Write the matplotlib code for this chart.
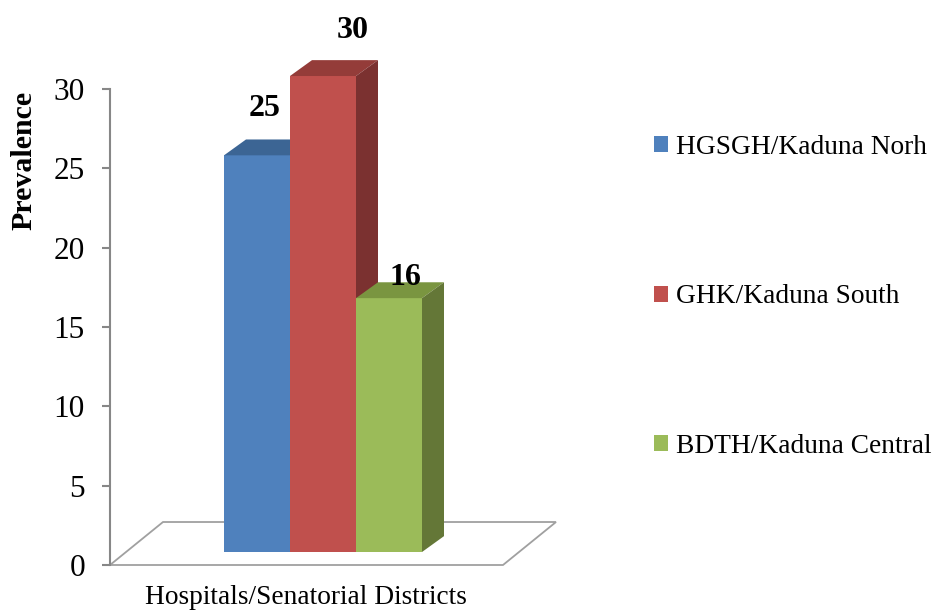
import numpy as np
import matplotlib.pyplot as plt
from matplotlib.patches import Polygon, Patch

plt.rcParams['font.family'] = ['Liberation Serif', 'DejaVu Serif']

labels = ['HGSGH/Kaduna Norh', 'GHK/Kaduna South', 'BDTH/Kaduna Central']
values = [25, 30, 16]
front_cols = ['#4F81BD', '#C0504D', '#9BBB59']
top_cols = ['#3C6594', '#943C39', '#7A9540']
side_cols = ['#345680', '#7B3130', '#647737']
yticks = [0, 5, 10, 15, 20, 25, 30]

W, H = 932, 611
fig = plt.figure(figsize=(W / 100, H / 100), dpi=100)
# axes box in pixels: x 110..560, y 89 (30) .. 565 (0)
ax = fig.add_axes([110 / W, (H - 565) / H, 450 / W, (565 - 89) / H])
x0 = -114 / 66.0
ax.set_xlim(x0, x0 + 450 / 66.0)
ax.set_ylim(0, 30)

gray = '#878787'
# floor
fdx, fdy = 53 / 66.0, 43 / 15.87
fx1 = (503 - 224) / 66.0
floor = Polygon([(x0, 0), (fx1, 0), (fx1 + fdx, fdy), (x0 + fdx, fdy)],
                closed=True, facecolor='white', edgecolor='#a0a0a0', lw=1.3,
                clip_on=False, zorder=1)
ax.add_patch(floor)

# bars with fake depth
base = 13 / 15.87
dx, dy = 22 / 66.0, 1.0
for i, v in enumerate(values):
    l, r, top = i, i + 1, base + v
    ax.add_patch(Polygon([(l, base), (r, base), (r, top), (l, top)],
                         facecolor=front_cols[i], edgecolor='none', clip_on=False, zorder=2 + i))
    ax.add_patch(Polygon([(l, top), (r, top), (r + dx, top + dy), (l + dx, top + dy)],
                         facecolor=top_cols[i], edgecolor='none', clip_on=False, zorder=2 + i))
    ax.add_patch(Polygon([(r, base), (r + dx, base + dy), (r + dx, top + dy), (r, top)],
                         facecolor=side_cols[i], edgecolor='none', clip_on=False, zorder=2 + i))

# value labels
lab_pos = [(0.62, 28.8), (1.95, 33.7), (2.75, 18.1)]
for (lx, ly), v in zip(lab_pos, values):
    ax.text(lx, ly, str(v), ha='center', va='center', fontsize=23,
            fontweight='bold', zorder=10, clip_on=False)

for s in ['top', 'right', 'bottom']:
    ax.spines[s].set_visible(False)
ax.spines['left'].set_color(gray)
ax.spines['left'].set_linewidth(1.5)
ax.set_yticks(yticks)
ax.tick_params(axis='y', direction='out', length=6, width=1.5, color=gray,
               labelsize=22.5, pad=12)
ax.set_xticks([])
ax.set_ylabel('Prevalence', fontsize=21.5, fontweight='bold')
ax.yaxis.set_label_coords((37 - 110) / 450, (565 - 160) / 476)
ax.set_xlabel('Hospitals/Senatorial Districts', fontsize=19.7)
ax.xaxis.set_label_coords((306 - 110) / 450, -(585 - 565) / 476)

handles = [Patch(facecolor=c, edgecolor='none') for c in front_cols]
leg = fig.legend(handles, labels, loc='upper left', bbox_to_anchor=(643 / W, 1 - 124 / H),
                 frameon=False, fontsize=19.7, labelspacing=4.55, handlelength=0.5,
                 handleheight=0.5, handletextpad=0.3, borderaxespad=0)

fig.savefig('out.png', dpi=100)
